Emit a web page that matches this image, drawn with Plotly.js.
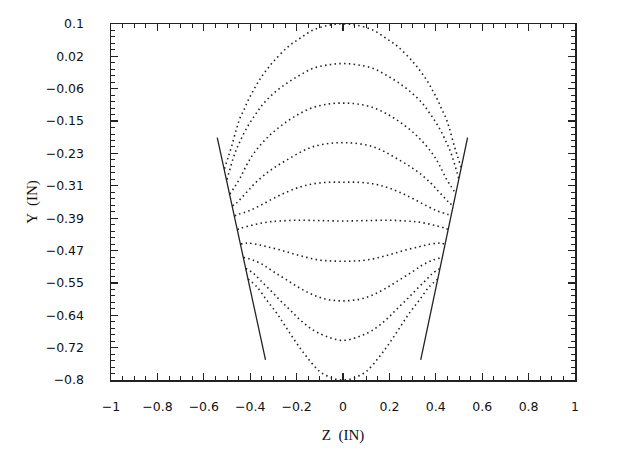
<!DOCTYPE html>
<html>
<head>
<meta charset="utf-8">
<script src="https://cdn.plot.ly/plotly-3.0.1.min.js"></script>
<style>html,body{margin:0;padding:0;background:#fff;}#chart{width:620px;height:461px;}</style>
</head>
<body>
<div id="chart"></div>
<script>
// Dotted curves (Z, Y), one pair of arrays per curve
const c1x = [-0.511,-0.494,-0.48,-0.458,-0.444,-0.427,-0.408,-0.389,-0.365,-0.336,-0.3,-0.236,-0.185,-0.128,-0.06,0,0.06,0.128,0.185,0.236,0.3,0.336,0.365,0.389,0.408,0.427,0.444,0.458,0.48,0.494,0.511];
const c1y = [-0.266,-0.235,-0.209,-0.163,-0.138,-0.117,-0.092,-0.071,-0.046,-0.021,0.005,0.043,0.064,0.085,0.097,0.1,0.097,0.085,0.064,0.043,0.005,-0.021,-0.046,-0.071,-0.092,-0.117,-0.138,-0.163,-0.209,-0.235,-0.266];
const c2x = [-0.5,-0.466,-0.444,-0.415,-0.379,-0.344,-0.3,-0.243,-0.185,-0.128,-0.06,0,0.06,0.128,0.185,0.243,0.3,0.344,0.379,0.415,0.444,0.466,0.5];
const c2y = [-0.293,-0.227,-0.197,-0.163,-0.13,-0.102,-0.076,-0.05,-0.029,-0.012,-0.003,0,-0.003,-0.012,-0.029,-0.05,-0.076,-0.102,-0.13,-0.163,-0.197,-0.227,-0.293];
const c3x = [-0.488,-0.465,-0.444,-0.415,-0.387,-0.344,-0.3,-0.243,-0.185,-0.128,-0.06,0,0.06,0.128,0.185,0.243,0.3,0.344,0.387,0.415,0.444,0.465,0.488];
const c3y = [-0.33,-0.31,-0.29,-0.256,-0.229,-0.198,-0.173,-0.147,-0.126,-0.111,-0.102,-0.1,-0.102,-0.111,-0.126,-0.147,-0.173,-0.198,-0.229,-0.256,-0.29,-0.31,-0.33];
const c4x = [-0.477,-0.458,-0.437,-0.41,-0.38,-0.34,-0.296,-0.24,-0.18,-0.128,-0.06,0,0.06,0.128,0.18,0.24,0.296,0.34,0.38,0.41,0.437,0.458,0.477];
const c4y = [-0.36,-0.352,-0.339,-0.322,-0.303,-0.282,-0.263,-0.243,-0.223,-0.21,-0.202,-0.2,-0.202,-0.21,-0.223,-0.243,-0.263,-0.282,-0.303,-0.322,-0.339,-0.352,-0.36];
const c5x = [-0.467,-0.45,-0.408,-0.358,-0.3,-0.243,-0.185,-0.128,-0.06,0,0.06,0.128,0.185,0.243,0.3,0.358,0.408,0.45,0.467];
const c5y = [-0.385,-0.381,-0.373,-0.359,-0.341,-0.325,-0.312,-0.304,-0.3,-0.3,-0.3,-0.304,-0.312,-0.325,-0.341,-0.359,-0.373,-0.381,-0.385];
const c6x = [-0.455,-0.44,-0.401,-0.358,-0.315,-0.272,-0.2,-0.1,0,0.1,0.2,0.272,0.315,0.358,0.401,0.44,0.455];
const c6y = [-0.42,-0.416,-0.41,-0.404,-0.4,-0.398,-0.396,-0.397,-0.398,-0.397,-0.396,-0.398,-0.4,-0.404,-0.41,-0.416,-0.42];
const c7x = [-0.441,-0.415,-0.372,-0.329,-0.272,-0.214,-0.157,-0.099,-0.05,0,0.05,0.099,0.157,0.214,0.272,0.329,0.372,0.415,0.441];
const c7y = [-0.456,-0.454,-0.457,-0.463,-0.471,-0.481,-0.49,-0.497,-0.499,-0.5,-0.499,-0.497,-0.49,-0.481,-0.471,-0.463,-0.457,-0.454,-0.456];
const c8x = [-0.429,-0.387,-0.344,-0.3,-0.243,-0.185,-0.128,-0.07,0,0.07,0.128,0.185,0.243,0.3,0.344,0.387,0.429];
const c8y = [-0.49,-0.497,-0.509,-0.526,-0.547,-0.568,-0.585,-0.596,-0.6,-0.596,-0.585,-0.568,-0.547,-0.526,-0.509,-0.497,-0.49];
const c9x = [-0.419,-0.387,-0.358,-0.315,-0.272,-0.228,-0.185,-0.128,-0.07,0,0.07,0.128,0.185,0.228,0.272,0.315,0.358,0.387,0.419];
const c9y = [-0.518,-0.53,-0.547,-0.572,-0.598,-0.623,-0.648,-0.674,-0.69,-0.7,-0.69,-0.674,-0.648,-0.623,-0.598,-0.572,-0.547,-0.53,-0.518];
const c10x = [-0.409,-0.372,-0.329,-0.286,-0.243,-0.2,-0.157,-0.099,-0.042,0,0.042,0.099,0.157,0.2,0.243,0.286,0.329,0.372,0.409];
const c10y = [-0.545,-0.564,-0.598,-0.631,-0.669,-0.707,-0.741,-0.779,-0.796,-0.8,-0.796,-0.779,-0.741,-0.707,-0.669,-0.631,-0.598,-0.564,-0.545];

// Solid boundary lines
const leftWallX = [-0.542, -0.334];
const leftWallY = [-0.187, -0.749];
const rightWallX = [0.537, 0.335];
const rightWallY = [-0.187, -0.749];

// Axis ticks
const yTickVals = [-0.8,-0.71818,-0.63636,-0.55455,-0.47273,-0.39091,-0.30909,-0.22727,-0.14545,-0.06364,0.01818,0.1];
const yTickText = ['\u22120.8','\u22120.72','\u22120.64','\u22120.55','\u22120.47','\u22120.39','\u22120.31','\u22120.23','\u22120.15','\u22120.06','0.02','0.1'];

const curves = [[c1x,c1y],[c2x,c2y],[c3x,c3y],[c4x,c4y],[c5x,c5y],[c6x,c6y],[c7x,c7y],[c8x,c8y],[c9x,c9y],[c10x,c10y]];
const traces = curves.map(c => ({
  x: c[0], y: c[1], type: 'scatter', mode: 'lines',
  line: {color: '#222', width: 1.6, dash: '1.5px,3.3px', shape: 'spline', smoothing: 1},
  hoverinfo: 'skip'
}));
traces.push({x: leftWallX, y: leftWallY, type: 'scatter', mode: 'lines', line: {color: '#222', width: 1.3}});
traces.push({x: rightWallX, y: rightWallY, type: 'scatter', mode: 'lines', line: {color: '#222', width: 1.3}});

const tickFont = {family: 'DejaVu Sans, sans-serif', size: 12.5, color: '#111'};
const layout = {
  width: 620, height: 461,
  margin: {l: 111, r: 45, t: 24, b: 81},
  paper_bgcolor: '#fff', plot_bgcolor: '#fff',
  showlegend: false,
  xaxis: {
    range: [-1, 1], dtick: 0.2, tick0: -1,
    ticks: 'inside', ticklen: 7, tickwidth: 1.2, tickcolor: '#222',
    showline: true, linecolor: '#222', linewidth: 1.5, mirror: 'allticks',
    showgrid: false, zeroline: false,
    tickfont: tickFont, ticklabelstandoff: 14,
    minor: {dtick: 0.05, tick0: -1, ticks: 'inside', ticklen: 4, tickwidth: 1, tickcolor: '#222', showgrid: false},
    title: {text: 'Z  (IN)', font: {family: 'Liberation Serif, serif', size: 15, color: '#111'}, standoff: 17}
  },
  yaxis: {
    range: [-0.8, 0.1],
    tickmode: 'array', tickvals: yTickVals, ticktext: yTickText,
    ticks: 'inside', ticklen: 7, tickwidth: 1.2, tickcolor: '#222',
    showline: true, linecolor: '#222', linewidth: 1.5, mirror: 'allticks',
    showgrid: false, zeroline: false,
    tickfont: tickFont, ticklabelstandoff: 23,
    minor: {tickmode: 'linear', tick0: -0.8, dtick: 0.9/55, ticks: 'inside', ticklen: 4, tickwidth: 1, tickcolor: '#222', showgrid: false},
    title: {text: 'Y  (IN)', font: {family: 'Liberation Serif, serif', size: 15, color: '#111'}, standoff: 4}
  }
};
Plotly.newPlot('chart', traces, layout, {staticPlot: true, displayModeBar: false});
</script>
</body>
</html>
